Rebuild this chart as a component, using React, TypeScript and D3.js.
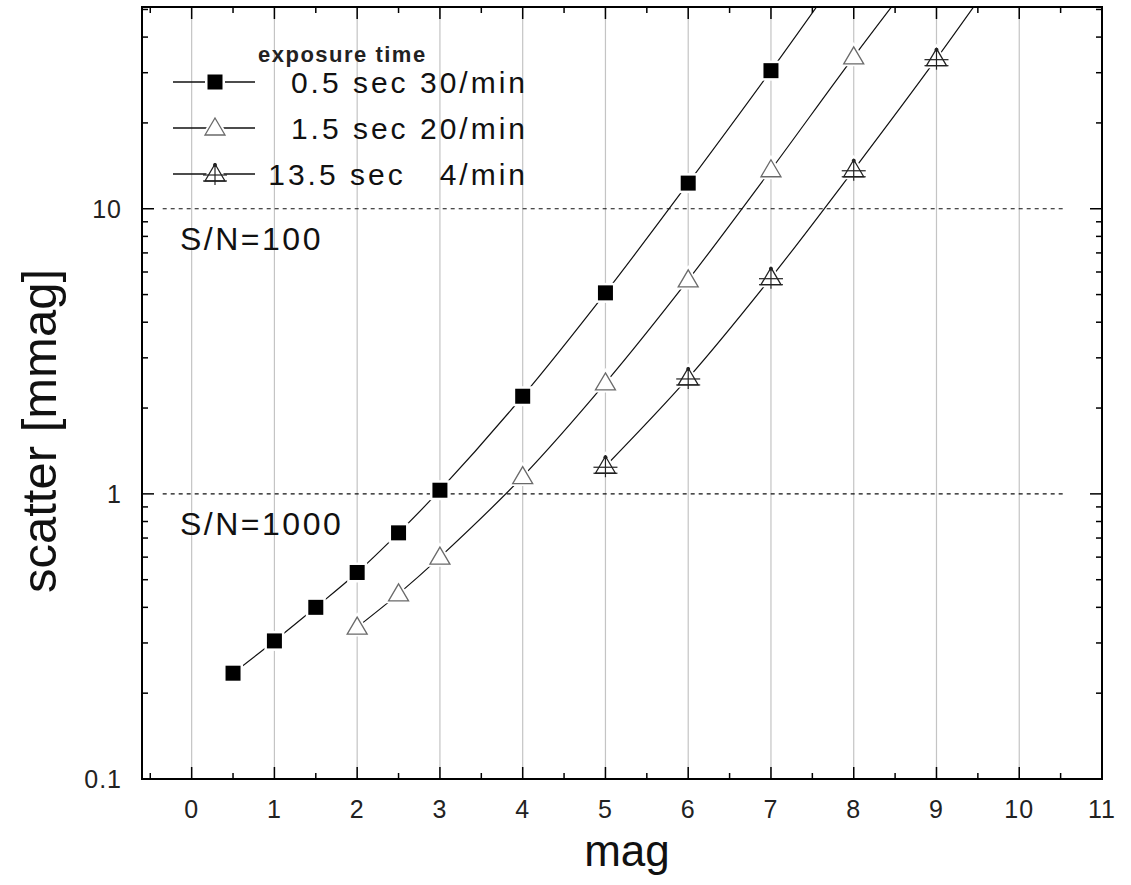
import React from 'react';
import * as d3 from 'd3';

// magnitudes and scatter [mmag]
const magA = [0.5, 1, 1.5, 2, 2.5, 3, 4, 5, 6, 7, 8];
const scatterA = [0.235, 0.305, 0.4, 0.53, 0.73, 1.03, 2.2, 5.07, 12.3, 30.5, 78];
const magB = [2, 2.5, 3, 4, 5, 6, 7, 8, 9];
const scatterB = [0.341, 0.446, 0.6, 1.15, 2.45, 5.63, 13.7, 34.1, 82];
const magC = [5, 6, 7, 8, 9, 10];
const scatterC = [1.25, 2.55, 5.73, 13.7, 33.6, 86];

const legendLabels = ['0.5 sec 30/min', '1.5 sec 20/min', '13.5 sec   4/min'];
const xTicks = [0, 1, 2, 3, 4, 5, 6, 7, 8, 9, 10, 11];
const yTicks = [0.1, 1, 10];
const snLevels = [10, 1];
const snLabels = ['S/N=100', 'S/N=1000'];

const W = 1131, H = 885;
const left = 142, right = 1102, top = 7, bottom = 779;
const font = '"Liberation Sans", Arial, sans-serif';

const x = d3.scaleLinear().domain([-0.6, 11]).range([left, right]);
const y = d3.scaleLog().domain([0.1, 51]).range([bottom, top]);

const line = d3.line<[number, number]>()
  .x(d => x(d[0]))
  .y(d => y(d[1]))
  .curve(d3.curveCatmullRom.alpha(0.5));

const Square = ({ cx, cy }: { cx: number; cy: number }) => (
  <g>
    <rect x={cx - 10} y={cy - 10} width={20} height={20} fill="#fff" />
    <rect x={cx - 7.5} y={cy - 7.5} width={15} height={15} fill="#000" />
  </g>
);

const Tri = ({ cx, cy }: { cx: number; cy: number }) => (
  <path d={`M${cx},${cy - 10} L${cx + 10},${cy + 7} L${cx - 10},${cy + 7} Z`}
    fill="#fff" stroke="#fff" strokeWidth={5}
    style={{ paintOrder: 'stroke' }} />
);

const TriOutline = ({ cx, cy, c }: { cx: number; cy: number; c: string }) => (
  <path d={`M${cx},${cy - 10} L${cx + 10},${cy + 7} L${cx - 10},${cy + 7} Z`}
    fill="none" stroke={c} strokeWidth={1.3} />
);

const OpenTri = ({ cx, cy }: { cx: number; cy: number }) => (
  <g>
    <Tri cx={cx} cy={cy} />
    <TriOutline cx={cx} cy={cy} c="#6a6a6a" />
  </g>
);

const CrossTri = ({ cx, cy }: { cx: number; cy: number }) => (
  <g>
    <Tri cx={cx} cy={cy} />
    <TriOutline cx={cx} cy={cy} c="#222" />
    <line x1={cx - 12} x2={cx + 12} y1={cy + 1} y2={cy + 1} stroke="#222" strokeWidth={1.2} />
    <line x1={cx - 12} x2={cx + 12} y1={cy + 7} y2={cy + 7} stroke="#222" strokeWidth={1.2} />
    <line x1={cx} x2={cx} y1={cy - 11} y2={cy + 11} stroke="#222" strokeWidth={1.2} />
    <circle cx={cx} cy={cy - 9} r={2} fill="#222" />
  </g>
);

const series = [
  { mag: magA, val: scatterA, M: Square },
  { mag: magB, val: scatterB, M: OpenTri },
  { mag: magC, val: scatterC, M: CrossTri },
];

const minorY: number[] = [];
[0.1, 1, 10].forEach(d => { for (let k = 2; k <= 9; k++) { const v = d * k; if (v <= 51) minorY.push(v); } });
const minorX = d3.range(-0.5, 11, 1);

export default function App() {
  return (
    <svg width={W} height={H} style={{ position: 'absolute', left: 0, top: 0, background: '#fff' }}
      fontFamily={font}>
      <defs>
        <clipPath id="plot">
          <rect x={left} y={top} width={right - left} height={bottom - top} />
        </clipPath>
      </defs>

      {/* vertical grid */}
      {xTicks.filter(t => t < 11).map(t => (
        <line key={t} x1={x(t)} x2={x(t)} y1={top} y2={bottom} stroke="#c4c4c4" strokeWidth={1.2} />
      ))}

      {/* S/N levels */}
      {snLevels.map((v, i) => (
        <g key={v}>
          <line x1={x(-0.35)} x2={x(10.55)} y1={y(v)} y2={y(v)} stroke="#111" strokeWidth={1.2} strokeDasharray="4,4" />
          <text x={180} y={y(v) + 41} fontSize={32} letterSpacing={2.5} fill="#111">{snLabels[i]}</text>
        </g>
      ))}

      {/* series */}
      <g clipPath="url(#plot)">
        {series.map((s, i) => (
          <path key={i} d={line(s.mag.map((m, j) => [m, s.val[j]] as [number, number])) || ''}
            fill="none" stroke="#111" strokeWidth={1.2} />
        ))}
        {series.map((s, i) => s.mag.map((m, j) => (
          <s.M key={`${i}-${j}`} cx={x(m)} cy={y(s.val[j])} />
        )))}
      </g>

      {/* frame */}
      <rect x={left} y={top} width={right - left} height={bottom - top} fill="none" stroke="#000" strokeWidth={2} />

      {/* x ticks, bottom and top */}
      {xTicks.map(t => (
        <g key={t}>
          <line x1={x(t)} x2={x(t)} y1={bottom} y2={bottom - 12} stroke="#000" strokeWidth={1.5} />
          <line x1={x(t)} x2={x(t)} y1={top} y2={top + 12} stroke="#000" strokeWidth={1.5} />
          <text x={x(t)} y={818} fontSize={25} letterSpacing={1} textAnchor="middle" fill="#222">{t}</text>
        </g>
      ))}
      {minorX.map(t => (
        <g key={t}>
          <line x1={x(t)} x2={x(t)} y1={bottom} y2={bottom - 6} stroke="#000" strokeWidth={1.5} />
          <line x1={x(t)} x2={x(t)} y1={top} y2={top + 6} stroke="#000" strokeWidth={1.5} />
        </g>
      ))}

      {/* y ticks, left and right */}
      {yTicks.map(t => (
        <g key={t}>
          <line x1={left} x2={left + 12} y1={y(t)} y2={y(t)} stroke="#000" strokeWidth={1.5} />
          <line x1={right} x2={right - 12} y1={y(t)} y2={y(t)} stroke="#000" strokeWidth={1.5} />
          <text x={122} y={y(t) + 9} fontSize={25} letterSpacing={1} textAnchor="end" fill="#222">{t}</text>
        </g>
      ))}
      {minorY.map(t => (
        <g key={t}>
          <line x1={left} x2={left + 6} y1={y(t)} y2={y(t)} stroke="#000" strokeWidth={1.5} />
          <line x1={right} x2={right - 6} y1={y(t)} y2={y(t)} stroke="#000" strokeWidth={1.5} />
        </g>
      ))}

      {/* axis titles */}
      <text x={627} y={866} fontSize={44} textAnchor="middle" fill="#111">mag</text>
      <text transform={`translate(56,431) rotate(-90)`} fontSize={49} textAnchor="middle" fill="#111">scatter [mmag]</text>

      {/* legend */}
      <text x={258} y={62} fontSize={22} letterSpacing={1.5} fontWeight="bold" fill="#222">exposure time</text>
      {series.map((s, i) => {
        const ly = 82 + i * 46;
        return (
          <g key={i}>
            <line x1={173} x2={255} y1={ly} y2={ly} stroke="#111" strokeWidth={1.3} />
            <s.M cx={215} cy={ly} />
            <text x={528} y={ly + 11} fontSize={30} letterSpacing={3} textAnchor="end" fill="#111" style={{ whiteSpace: 'pre' }}>{legendLabels[i]}</text>
          </g>
        );
      })}
    </svg>
  );
}
